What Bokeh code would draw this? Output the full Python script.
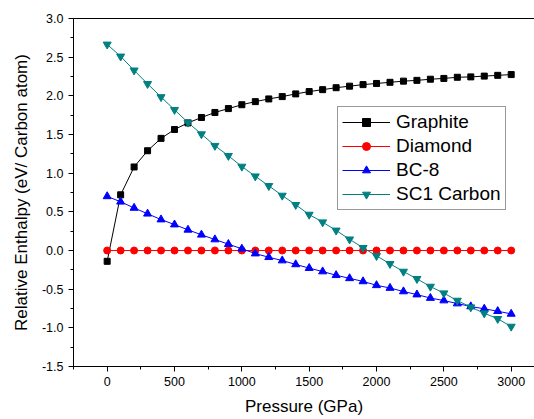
from bokeh.plotting import figure
from bokeh.models import (SingleIntervalTicker, PrintfTickFormatter, LinearAxis,
                          FixedTicker, Range1d)
from bokeh.embed import file_html
from bokeh.resources import INLINE

pressure = [0, 100, 200, 300, 400, 500, 600, 700, 800, 900, 1000,
            1100, 1200, 1300, 1400, 1500, 1600, 1700, 1800, 1900, 2000,
            2100, 2200, 2300, 2400, 2500, 2600, 2700, 2800, 2900, 3000]

graphite = [-0.14, 0.72, 1.08, 1.29, 1.45, 1.565, 1.65, 1.72, 1.785, 1.835, 1.885,
            1.925, 1.96, 1.99, 2.025, 2.055, 2.08, 2.105, 2.125, 2.145, 2.16,
            2.175, 2.19, 2.2, 2.215, 2.225, 2.24, 2.245, 2.255, 2.265, 2.275]

diamond = [0.0] * 31

bc8 = [0.70, 0.63, 0.55, 0.475, 0.40, 0.335, 0.267, 0.203, 0.142, 0.082, 0.022,
       -0.04, -0.087, -0.13, -0.18, -0.228, -0.272, -0.32, -0.36, -0.40, -0.45,
       -0.485, -0.53, -0.57, -0.615, -0.647, -0.686, -0.724, -0.754, -0.785, -0.82]

sc1 = [2.665, 2.51, 2.33, 2.155, 1.985, 1.82, 1.655, 1.505, 1.355, 1.225, 1.086,
       0.96, 0.836, 0.711, 0.591, 0.465, 0.366, 0.26, 0.145, 0.035, -0.069,
       -0.172, -0.272, -0.366, -0.466, -0.552, -0.647, -0.733, -0.811, -0.883, -0.983]

FONT = "Liberation Sans"

p = figure(width=534, height=419, output_backend="svg", toolbar_location=None,
           x_range=Range1d(-250, 3173), y_range=Range1d(-1.5, 3.0),
           min_border_left=73, min_border_right=0, min_border_top=18,
           min_border_bottom=53)
p.outline_line_color = None
p.xgrid.visible = False
p.ygrid.visible = False

series = [
    ("Graphite", graphite, "#000000", "square", 6),
    ("Diamond", diamond, "#ff0000", "circle", 7),
    ("BC-8", bc8, "#0000ff", "triangle", 8),
    ("SC1 Carbon", sc1, "#008080", "inverted_triangle", 8),
]
for name, ys, col, marker, sz in series:
    p.line(pressure, ys, line_color=col, line_width=1, legend_label=name)
    p.scatter(pressure, ys, marker=marker, size=sz, fill_color=col,
              line_color=col, legend_label=name)

# axes
p.xaxis.ticker = SingleIntervalTicker(interval=500, num_minor_ticks=2)
p.yaxis.ticker = SingleIntervalTicker(interval=0.5, num_minor_ticks=2)
p.yaxis.formatter = PrintfTickFormatter(format="%.1f")
for ax in (p.xaxis[0], p.yaxis[0]):
    ax.axis_line_color = "#000000"
    ax.axis_line_width = 1
    ax.major_tick_line_color = "#000000"
    ax.minor_tick_line_color = "#000000"
    ax.major_tick_in = 0
    ax.major_tick_out = 5
    ax.minor_tick_in = 0
    ax.minor_tick_out = 3
    ax.major_label_text_font = FONT
    ax.major_label_text_font_size = "12.5px"
    ax.major_label_text_color = "#000000"
    ax.axis_label_text_font = FONT
    ax.axis_label_text_font_size = "17px"
    ax.axis_label_text_font_style = "normal"
    ax.axis_label_text_color = "#000000"
    ax.axis_label_standoff = 8
    ax.major_label_standoff = 5

p.xaxis.axis_label = "Pressure (GPa)"
p.yaxis.axis_label = "Relative Enthalpy (eV/ Carbon atom)"

top = LinearAxis(ticker=FixedTicker(ticks=[]), axis_line_color="#000000",
                 major_tick_out=0, minor_tick_out=0, major_tick_in=0, minor_tick_in=0,
                 major_label_text_font_size="0px", major_label_standoff=0)
p.add_layout(top, "above")

# legend
lg = p.legend[0]
lg.location = (264, 156)
lg.border_line_color = "#333333"
lg.border_line_width = 1
lg.background_fill_alpha = 1.0
lg.label_text_font = FONT
lg.label_text_font_size = "19px"
lg.label_text_color = "#000000"
lg.glyph_width = 48
lg.glyph_height = 20
lg.label_height = 20
lg.label_standoff = 6
lg.spacing = 2
lg.padding = 4
lg.margin = 0

open("out.html", "w").write(file_html(p, INLINE))
